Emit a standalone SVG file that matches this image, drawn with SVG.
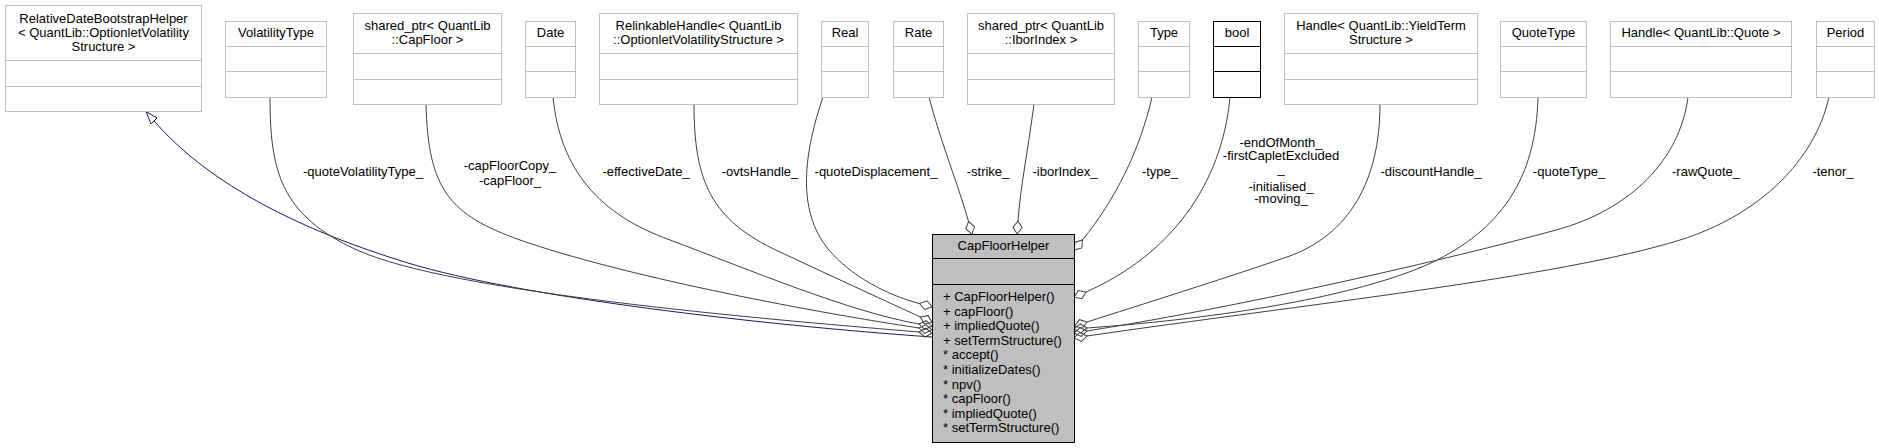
<svg xmlns="http://www.w3.org/2000/svg" width="1879" height="448" viewBox="0 0 1879 448">
<style>
text{font-family:"Liberation Sans",Arial,sans-serif;font-size:13px;fill:#000}
.c{text-anchor:middle}
.box{fill:#fff;stroke:#bfbfbf;stroke-width:1}
.dv{stroke:#bfbfbf;stroke-width:1}
.blk .box,.blk .dv{stroke:#000}
.main .box{fill:#bfbfbf;stroke:#000}
.main .dv{stroke:#000}
.e{fill:none;stroke:#404040;stroke-width:1;marker-end:url(#dia)}
.inh{fill:none;stroke:#191970;stroke-width:1}
</style>
<defs>
<marker id="dia" markerUnits="userSpaceOnUse" orient="auto" refX="0" refY="0" markerWidth="14" markerHeight="10" overflow="visible">
<path d="M0,0 L6.5,-4.5 L13,0 L6.5,4.5 Z" fill="none" stroke="#404040" stroke-width="1"/>
</marker>
</defs>

<g id="edges">
<path class="inh" d="M154,121 C210,185 300,230 408,263 C520,297 760,325 932,337"/>
<polygon points="146,111.5 157,118 151,124" fill="#fff" stroke="#191970"/>
<path class="e" d="M270,97 C270,170 280,215 357,250 C450,292 750,318 919,332"/>
<path class="e" d="M426,104 C428,190 450,215 520,240 C620,275 800,310 919,328"/>
<path class="e" d="M553,97 C560,170 600,215 670,240 C750,270 850,312 919,324"/>
<path class="e" d="M694,104 C694,180 710,220 780,252 C840,280 890,303 920.3,317"/>
<path class="e" d="M823,97 C805,150 795,210 829,250 C850,275 886,295 919.5,303.5"/>
<path class="e" d="M929,97 C940,140 960,190 968.5,221.5"/>
<path class="e" d="M1034,104 C1028,150 1020,190 1018,221"/>
<path class="e" d="M1152,97 C1140,150 1115,200 1082.5,240"/>
<path class="e" d="M1230,97 C1222,185 1170,255 1086,292"/>
<path class="e" d="M1380,104 C1380,180 1350,235 1287,257 C1220,280 1140,305 1087,322"/>
<path class="e" d="M1538,97 C1536,180 1500,230 1431,263 C1350,300 1200,320 1087,328"/>
<path class="e" d="M1688,97 C1680,160 1630,210 1556,230 C1450,259 1250,305 1087,331"/>
<path class="e" d="M1829,97 C1815,160 1760,215 1680,240 C1560,277.5 1300,305 1087,336"/>
<text class="c" x="363" y="176">-quoteVolatilityType_</text>
<text class="c" x="510" y="170">-capFloorCopy_</text>
<text class="c" x="510" y="184.5">-capFloor_</text>
<text class="c" x="646" y="176">-effectiveDate_</text>
<text class="c" x="760" y="176">-ovtsHandle_</text>
<text class="c" x="876" y="176">-quoteDisplacement_</text>
<text class="c" x="988" y="176">-strike_</text>
<text class="c" x="1065" y="176">-iborIndex_</text>
<text class="c" x="1160" y="176">-type_</text>
<text class="c" x="1281" y="147">-endOfMonth_</text>
<text class="c" x="1281" y="159.5">-firstCapletExcluded</text>
<text class="c" x="1281" y="173">_</text>
<text class="c" x="1281" y="190.5">-initialised_</text>
<text class="c" x="1281" y="203">-moving_</text>
<text class="c" x="1431" y="176">-discountHandle_</text>
<text class="c" x="1569" y="176">-quoteType_</text>
<text class="c" x="1706" y="176">-rawQuote_</text>
<text class="c" x="1833" y="176">-tenor_</text>
</g>

<g id="RelativeDateBootstrapHelper">
<rect class="box" x="5.5" y="5.5" width="196" height="106"/>
<line class="dv" x1="5.5" y1="60.5" x2="201.5" y2="60.5"/>
<line class="dv" x1="5.5" y1="86.5" x2="201.5" y2="86.5"/>
<text class="c" x="103.5" y="23">RelativeDateBootstrapHelper</text>
<text class="c" x="103.5" y="37">&lt; QuantLib::OptionletVolatility</text>
<text class="c" x="103.5" y="50.5">Structure &gt;</text>
</g>

<g id="VolatilityType">
<rect class="box" x="225.5" y="21.5" width="101" height="76"/>
<line class="dv" x1="225.5" y1="46.5" x2="326.5" y2="46.5"/>
<line class="dv" x1="225.5" y1="71.5" x2="326.5" y2="71.5"/>
<text class="c" x="276" y="37">VolatilityType</text>
</g>

<g id="shared_ptr_CapFloor">
<rect class="box" x="353.5" y="13.5" width="148" height="91"/>
<line class="dv" x1="353.5" y1="53.5" x2="501.5" y2="53.5"/>
<line class="dv" x1="353.5" y1="79.5" x2="501.5" y2="79.5"/>
<text class="c" x="427.5" y="30">shared_ptr&lt; QuantLib</text>
<text class="c" x="427.5" y="43.5">::CapFloor &gt;</text>
</g>

<g id="Date">
<rect class="box" x="525.5" y="21.5" width="50" height="76"/>
<line class="dv" x1="525.5" y1="46.5" x2="575.5" y2="46.5"/>
<line class="dv" x1="525.5" y1="71.5" x2="575.5" y2="71.5"/>
<text class="c" x="550.5" y="37">Date</text>
</g>

<g id="RelinkableHandle">
<rect class="box" x="599.5" y="13.5" width="198" height="91"/>
<line class="dv" x1="599.5" y1="53.5" x2="797.5" y2="53.5"/>
<line class="dv" x1="599.5" y1="79.5" x2="797.5" y2="79.5"/>
<text class="c" x="698.5" y="30">RelinkableHandle&lt; QuantLib</text>
<text class="c" x="698.5" y="43.5">::OptionletVolatilityStructure &gt;</text>
</g>

<g id="Real">
<rect class="box" x="821.5" y="21.5" width="47" height="76"/>
<line class="dv" x1="821.5" y1="46.5" x2="868.5" y2="46.5"/>
<line class="dv" x1="821.5" y1="71.5" x2="868.5" y2="71.5"/>
<text class="c" x="845" y="37">Real</text>
</g>

<g id="Rate">
<rect class="box" x="893.5" y="21.5" width="50" height="76"/>
<line class="dv" x1="893.5" y1="46.5" x2="943.5" y2="46.5"/>
<line class="dv" x1="893.5" y1="71.5" x2="943.5" y2="71.5"/>
<text class="c" x="918.5" y="37">Rate</text>
</g>

<g id="shared_ptr_IborIndex">
<rect class="box" x="967.5" y="13.5" width="147" height="91"/>
<line class="dv" x1="967.5" y1="53.5" x2="1114.5" y2="53.5"/>
<line class="dv" x1="967.5" y1="79.5" x2="1114.5" y2="79.5"/>
<text class="c" x="1041" y="30">shared_ptr&lt; QuantLib</text>
<text class="c" x="1041" y="43.5">::IborIndex &gt;</text>
</g>

<g id="Type">
<rect class="box" x="1138.5" y="21.5" width="51" height="76"/>
<line class="dv" x1="1138.5" y1="46.5" x2="1189.5" y2="46.5"/>
<line class="dv" x1="1138.5" y1="71.5" x2="1189.5" y2="71.5"/>
<text class="c" x="1164" y="37">Type</text>
</g>

<g id="bool" class="blk">
<rect class="box" x="1213.5" y="21.5" width="47" height="76"/>
<line class="dv" x1="1213.5" y1="46.5" x2="1260.5" y2="46.5"/>
<line class="dv" x1="1213.5" y1="71.5" x2="1260.5" y2="71.5"/>
<text class="c" x="1237" y="37">bool</text>
</g>

<g id="Handle_YieldTermStructure">
<rect class="box" x="1284.5" y="13.5" width="193" height="91"/>
<line class="dv" x1="1284.5" y1="53.5" x2="1477.5" y2="53.5"/>
<line class="dv" x1="1284.5" y1="79.5" x2="1477.5" y2="79.5"/>
<text class="c" x="1381" y="30">Handle&lt; QuantLib::YieldTerm</text>
<text class="c" x="1381" y="43.5">Structure &gt;</text>
</g>

<g id="QuoteType">
<rect class="box" x="1500.5" y="21.5" width="86" height="76"/>
<line class="dv" x1="1500.5" y1="46.5" x2="1586.5" y2="46.5"/>
<line class="dv" x1="1500.5" y1="71.5" x2="1586.5" y2="71.5"/>
<text class="c" x="1543.5" y="37">QuoteType</text>
</g>

<g id="Handle_Quote">
<rect class="box" x="1610.5" y="21.5" width="181" height="76"/>
<line class="dv" x1="1610.5" y1="46.5" x2="1791.5" y2="46.5"/>
<line class="dv" x1="1610.5" y1="71.5" x2="1791.5" y2="71.5"/>
<text class="c" x="1701" y="37">Handle&lt; QuantLib::Quote &gt;</text>
</g>

<g id="Period">
<rect class="box" x="1816.5" y="21.5" width="58" height="76"/>
<line class="dv" x1="1816.5" y1="46.5" x2="1874.5" y2="46.5"/>
<line class="dv" x1="1816.5" y1="71.5" x2="1874.5" y2="71.5"/>
<text class="c" x="1845.5" y="37">Period</text>
</g>

<g id="CapFloorHelper" class="main">
<rect class="box" x="932.5" y="234.5" width="142" height="208"/>
<line class="dv" x1="932.5" y1="258.5" x2="1074.5" y2="258.5"/>
<line class="dv" x1="932.5" y1="284.5" x2="1074.5" y2="284.5"/>
<text class="c" x="1003.5" y="250">CapFloorHelper</text>
<text x="943" y="301">+ CapFloorHelper()</text>
<text x="943" y="315.6">+ capFloor()</text>
<text x="943" y="330.2">+ impliedQuote()</text>
<text x="943" y="344.8">+ setTermStructure()</text>
<text x="943" y="359.4">* accept()</text>
<text x="943" y="374">* initializeDates()</text>
<text x="943" y="388.6">* npv()</text>
<text x="943" y="403.2">* capFloor()</text>
<text x="943" y="417.8">* impliedQuote()</text>
<text x="943" y="432.4">* setTermStructure()</text>
</g>
</svg>
